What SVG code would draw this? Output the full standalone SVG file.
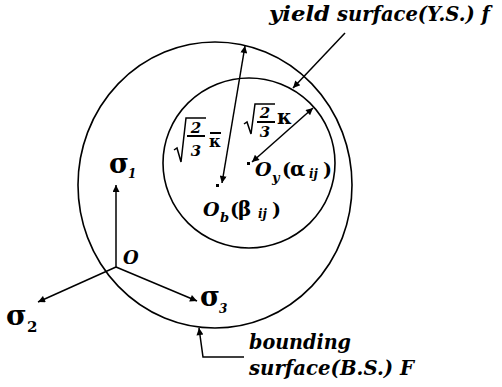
<svg xmlns="http://www.w3.org/2000/svg" width="502" height="387" viewBox="0 0 502 387">
<style>
  .ln{fill:none;stroke:#000;stroke-width:1.6}
  .ar{fill:none;stroke:#000;stroke-width:1.5}
  .it{font-family:"DejaVu Serif","Liberation Serif",serif;font-style:italic;font-weight:bold;fill:#000}
  .up{font-family:"DejaVu Serif","Liberation Serif",serif;font-weight:bold;fill:#000}
</style>
<defs>
  <marker id="ah" viewBox="0 0 10 10" refX="10" refY="5" markerUnits="userSpaceOnUse" markerWidth="10" markerHeight="7" orient="auto-start-reverse">
    <path d="M0,0 L10,5 L0,10 z" fill="#000"/>
  </marker>
</defs>

<g id="bounding-surface">
  <ellipse class="ln" cx="215" cy="185" rx="137" ry="143"/>
</g>
<g id="yield-surface">
  <ellipse class="ln" cx="249" cy="163" rx="86" ry="85"/>
</g>

<g id="origin">
  <text class="it" x="123" y="264" font-size="18">O</text>
</g>
<g id="sigma1">
  <text class="up" x="109" y="173" font-size="27">σ</text>
  <text class="it" x="128" y="178" font-size="12">1</text>
</g>
<g id="sigma2">
  <text class="up" x="6" y="325" font-size="28">σ</text>
  <text class="up" x="27" y="332" font-size="15">2</text>
</g>
<g id="sigma3">
  <text class="up" x="200" y="306" font-size="27">σ</text>
  <text class="it" x="219" y="313" font-size="12">3</text>
</g>

<g id="Ob">
  <rect x="216" y="184" width="3" height="3" fill="#000"/>
  <text class="it" x="203" y="216" font-size="19">O</text>
  <text class="it" x="220" y="222" font-size="13">b</text>
  <text class="up" x="230" y="216" font-size="19">(</text>
  <text class="up" x="238" y="216" font-size="20">β</text>
  <text class="it" x="258" y="218" font-size="12">ij</text>
  <text class="up" x="272" y="216" font-size="19">)</text>
</g>
<g id="Oy">
  <rect x="247" y="162" width="3" height="3" fill="#000"/>
  <text class="it" x="255" y="176" font-size="19">O</text>
  <text class="it" x="272" y="182" font-size="13">y</text>
  <text class="up" x="282" y="176" font-size="19">(</text>
  <text class="up" x="290" y="176" font-size="20">α</text>
  <text class="it" x="309" y="178" font-size="12">ij</text>
  <text class="up" x="323" y="176" font-size="19">)</text>
</g>

<g id="radius-bar">
  <polyline class="ar" points="174,150 177,148 181,162 186,118 206,118"/>
  <text class="it" x="196" y="133" font-size="15" text-anchor="middle">2</text>
  <line x1="187" y1="136" x2="205" y2="136" stroke="#000" stroke-width="2"/>
  <text class="it" x="196" y="156" font-size="15" text-anchor="middle">3</text>
  <line x1="210" y1="133" x2="221" y2="133" stroke="#000" stroke-width="2"/>
  <text class="up" x="209" y="147" font-size="16">κ</text>
</g>
<g id="radius-y">
  <polyline class="ar" points="244,124 247,122 251,134 255,104 275,104"/>
  <text class="it" x="265" y="118" font-size="15" text-anchor="middle">2</text>
  <line x1="257" y1="122" x2="275" y2="122" stroke="#000" stroke-width="2"/>
  <text class="it" x="265" y="137" font-size="15" text-anchor="middle">3</text>
  <text class="up" x="277" y="124" font-size="20">κ</text>
</g>

<g id="yield-label">
  <text class="it" x="269" y="21" font-size="20" textLength="61" lengthAdjust="spacingAndGlyphs">yield</text>
  <text class="it" x="337" y="21" font-size="20" textLength="153" lengthAdjust="spacingAndGlyphs">surface(Y.S.) f</text>
</g>
<g id="bounding-label">
  <text class="it" x="249" y="349" font-size="20" textLength="102" lengthAdjust="spacingAndGlyphs">bounding</text>
  <text class="it" x="249" y="375" font-size="20" textLength="165" lengthAdjust="spacingAndGlyphs">surface(B.S.) F</text>
</g>

<g id="connectors">
  <line class="ar" x1="116" y1="267" x2="116" y2="185" marker-end="url(#ah)"/>
  <line class="ar" x1="116" y1="267" x2="38" y2="302" marker-end="url(#ah)"/>
  <line class="ar" x1="116" y1="267" x2="197" y2="301" marker-end="url(#ah)"/>
  <line class="ar" x1="245" y1="46" x2="222" y2="183" marker-start="url(#ah)" marker-end="url(#ah)"/>
  <line class="ar" x1="313" y1="108" x2="252" y2="162" marker-start="url(#ah)" marker-end="url(#ah)"/>
  <line class="ar" x1="345" y1="33" x2="293" y2="88" marker-end="url(#ah)"/>
  <polyline class="ar" points="244,357 203,357 199,328" marker-end="url(#ah)"/>
</g>
</svg>
